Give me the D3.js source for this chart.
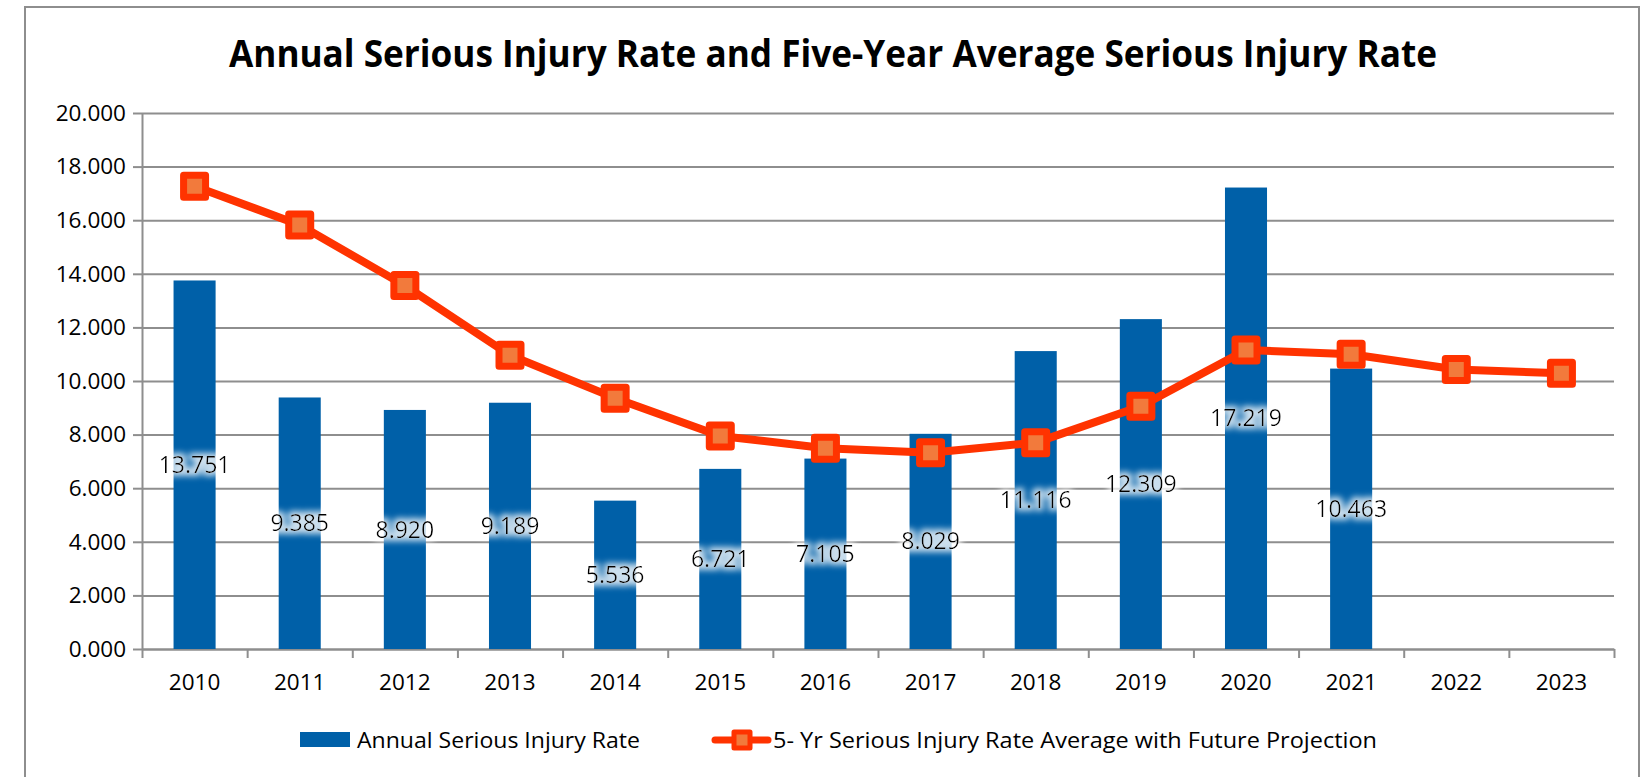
<!DOCTYPE html>
<html lang="en">
<head>
<meta charset="utf-8">
<title>Serious Injury Rate</title>
<script src="https://cdn.jsdelivr.net/npm/d3@7"></script>
<style>
  body { margin: 0; background: #fff; }
  text { font-family: "Open Sans", "Liberation Sans", sans-serif; fill: #000; }
  .grid line { stroke: #8e8e8e; stroke-width: 2px; }
  .grid path { display: none; }
  .axis path, .axis line { stroke: #8e8e8e; stroke-width: 2px; }
</style>
</head>
<body>
<div id="chart"></div>
<script>
var years = ["2010","2011","2012","2013","2014","2015","2016","2017","2018","2019","2020","2021","2022","2023"];
var annualRate = [13.751, 9.385, 8.920, 9.189, 5.536, 6.721, 7.105, 8.029, 11.116, 12.309, 17.219, 10.463, null, null];
var fiveYrAvg = [17.27, 15.82, 13.56, 10.96, 9.36, 7.95, 7.49, 7.32, 7.70, 9.06, 11.16, 11.00, 10.43, 10.29];
var yTicks = [0, 2, 4, 6, 8, 10, 12, 14, 16, 18, 20];
var titleText = "Annual Serious Injury Rate and Five-Year Average Serious Injury Rate";
var barName = "Annual Serious Injury Rate";
var lineName = "5- Yr Serious Injury Rate Average with Future Projection";

var width = 1649, height = 777;
var plotLeft = 142, plotRight = 1614, plotTop = 113, plotBottom = 649;

var barColor = "#0060a8", lineColor = "#ff3300", markerFill = "#f27a3c";

var svg = d3.select("#chart").append("svg")
    .attr("width", width)
    .attr("height", height);

// soft white glow behind the data labels
var defs = svg.append("defs");
var glow = defs.append("filter").attr("id", "glow")
    .attr("x", "-20%").attr("y", "-40%").attr("width", "140%").attr("height", "180%");
glow.append("feMorphology").attr("in", "SourceAlpha").attr("operator", "dilate").attr("radius", 3).attr("result", "d");
glow.append("feFlood").attr("flood-color", "#fff").attr("flood-opacity", 0.8);
glow.append("feComposite").attr("in2", "d").attr("operator", "in");
glow.append("feGaussianBlur").attr("stdDeviation", 3).attr("result", "g");
var gm = glow.append("feMerge");
gm.append("feMergeNode").attr("in", "g");
gm.append("feMergeNode").attr("in", "SourceGraphic");

// outer frame
svg.append("path")
    .attr("d", "M25," + (height + 5) + "V7H1639V" + (height + 5))
    .attr("fill", "none").attr("stroke", "#8e8e8e").attr("stroke-width", 2);

svg.append("text")
    .attr("x", 833).attr("y", 67)
    .attr("text-anchor", "middle")
    .attr("font-size", 38).attr("font-weight", "bold")
    .attr("textLength", 1208).attr("lengthAdjust", "spacingAndGlyphs")
    .text(titleText);

var x = d3.scaleBand().domain(years).range([plotLeft, plotRight]).padding(0);
var xi = d3.scaleLinear().domain([0, years.length]).range([plotLeft, plotRight]);
var y = d3.scaleLinear().domain([0, 20]).range([plotBottom, plotTop]);

// gridlines
svg.append("g").attr("class", "grid")
    .attr("transform", "translate(" + plotLeft + ",0)")
    .call(d3.axisLeft(y).tickValues(yTicks).tickSize(-(plotRight - plotLeft)).tickFormat(""));

// y axis
var ya = svg.append("g").attr("class", "axis")
    .attr("transform", "translate(" + plotLeft + ",0)")
    .call(d3.axisLeft(y).tickValues(yTicks).tickSize(9).tickSizeOuter(0).tickPadding(7).tickFormat(d3.format(".3f")));
ya.selectAll("text").attr("font-size", 22.5).attr("fill", "#000");

// x axis tick marks sit on the category boundaries
svg.append("g").attr("class", "axis")
    .attr("transform", "translate(0," + plotBottom + ")")
    .call(d3.axisBottom(xi).tickValues(d3.range(0, years.length + 1)).tickSize(9).tickSizeOuter(0).tickFormat(""));

// x labels
var xa = svg.append("g")
    .attr("transform", "translate(0," + plotBottom + ")")
    .call(d3.axisBottom(x).tickSize(0).tickPadding(25));
xa.select("path").remove();
xa.selectAll("text").attr("font-size", 22.5).attr("fill", "#000");

// bars
var bw = x.bandwidth() * 0.4;
var barData = years.map(function(d, i) { return {year: d, v: annualRate[i]}; })
    .filter(function(d) { return d.v != null; });

svg.selectAll(".bar").data(barData).enter().append("rect")
    .attr("class", "bar")
    .attr("x", function(d) { return x(d.year) + x.bandwidth() / 2 - bw / 2; })
    .attr("y", function(d) { return y(d.v); })
    .attr("width", bw)
    .attr("height", function(d) { return y(0) - y(d.v); })
    .attr("fill", barColor);

// line
var lineData = years.map(function(d, i) { return {year: d, v: fiveYrAvg[i]}; });
var line = d3.line()
    .x(function(d) { return x(d.year) + x.bandwidth() / 2; })
    .y(function(d) { return y(d.v); });

svg.append("path").datum(lineData)
    .attr("d", line)
    .attr("fill", "none").attr("stroke", lineColor).attr("stroke-width", 8)
    .attr("stroke-linejoin", "round");

var ms = 22;
svg.selectAll(".marker").data(lineData).enter().append("rect")
    .attr("class", "marker")
    .attr("x", function(d) { return x(d.year) + x.bandwidth() / 2 - ms / 2; })
    .attr("y", function(d) { return y(d.v) - ms / 2; })
    .attr("width", ms).attr("height", ms)
    .attr("fill", markerFill).attr("stroke", lineColor).attr("stroke-width", 7)
    .attr("stroke-linejoin", "round");

// data labels at bar middle
svg.selectAll(".lbl").data(barData).enter().append("text")
    .attr("class", "lbl")
    .attr("x", function(d) { return x(d.year) + x.bandwidth() / 2; })
    .attr("y", function(d) { return y(d.v / 2); })
    .attr("dy", "0.35em")
    .attr("text-anchor", "middle")
    .attr("font-size", 23)
    .attr("filter", "url(#glow)")
    .text(function(d) { return d3.format(".3f")(d.v); });

// legend
var lg = svg.append("g");
lg.append("rect").attr("x", 300).attr("y", 732).attr("width", 50).attr("height", 15).attr("fill", barColor);
lg.append("text").attr("x", 357).attr("y", 740).attr("dy", "0.35em")
    .attr("font-size", 22.5).attr("textLength", 283).attr("lengthAdjust", "spacingAndGlyphs")
    .text(barName);
lg.append("line").attr("x1", 715).attr("x2", 768).attr("y1", 740).attr("y2", 740)
    .attr("stroke", lineColor).attr("stroke-width", 7).attr("stroke-linecap", "round");
lg.append("rect").attr("x", 734).attr("y", 732).attr("width", 16).attr("height", 16)
    .attr("fill", markerFill).attr("stroke", lineColor).attr("stroke-width", 5).attr("stroke-linejoin", "round");
lg.append("text").attr("x", 773).attr("y", 740).attr("dy", "0.35em")
    .attr("font-size", 22.5).attr("textLength", 604).attr("lengthAdjust", "spacingAndGlyphs")
    .text(lineName);
</script>
</body>
</html>
